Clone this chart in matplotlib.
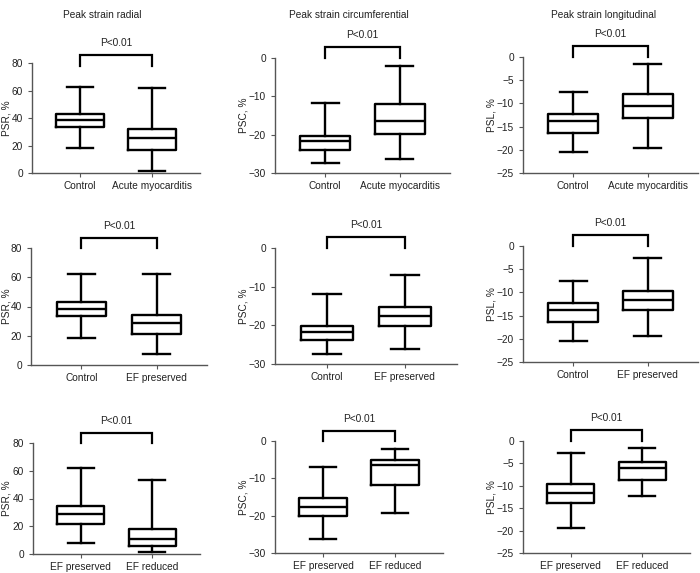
import matplotlib
matplotlib.use("Agg")
import matplotlib.pyplot as plt

plt.rcParams['font.family'] = ['Liberation Sans', 'DejaVu Sans']

W, H = 700, 573

titles = ["Peak strain radial", "Peak strain circumferential", "Peak strain longitudinal"]
ylabels = ["PSR, %", "PSC, %", "PSL, %"]
ylims = [(0, 80), (-30, 0), (-25, 0)]
yticks = [[0, 20, 40, 60, 80], [-30, -20, -10, 0], [-25, -20, -15, -10, -5, 0]]
group_labels = [["Control", "Acute myocarditis"],
                ["Control", "EF preserved"],
                ["EF preserved", "EF reduced"]]
p_text = "P<0.01"

# stats per group: (whislo, q1, med, q3, whishi)
psr_control = (18.2, 33.5, 38.3, 42.9, 62.3)
psr_acute = (1.2, 16.5, 25.5, 32.2, 61.8)
psr_efp = (7.6, 21.4, 28.7, 34.5, 62.3)
psr_efr = (1.7, 5.8, 11.0, 18.0, 53.5)

psc_control = (-27.3, -23.9, -21.7, -20.3, -11.8)
psc_acute = (-26.3, -19.8, -16.4, -12.1, -2.2)
psc_efp = (-26.2, -20.1, -17.6, -15.3, -6.9)
psc_efr = (-19.2, -11.9, -6.3, -5.2, -2.1)

psl_control = (-20.5, -16.3, -13.9, -12.2, -7.5)
psl_acute = (-19.6, -13.1, -10.6, -8.0, -1.5)
psl_efp = (-19.4, -13.8, -11.7, -9.6, -2.6)
psl_efr = (-12.3, -8.8, -6.0, -4.7, -1.6)

data = [
    [[psr_control, psr_acute], [psc_control, psc_acute], [psl_control, psl_acute]],
    [[psr_control, psr_efp], [psc_control, psc_efp], [psl_control, psl_efp]],
    [[psr_efp, psr_efr], [psc_efp, psc_efr], [psl_efp, psl_efr]],
]

# axes rects in pixels: (left, right, top, bottom)
rects = [
    [(32, 200, 63, 173), (275, 450, 58, 173), (523, 698, 57, 173)],
    [(31, 207, 248, 365), (275, 457, 248, 364), (523, 698, 246, 362)],
    [(33, 200, 443, 554), (275, 443, 441, 553), (523, 690, 441, 553)],
]
ylabel_x = [12, 248, 497]
# bracket (bottom, top) in data units
brackets = [
    [(78, 86), (0, 2.8), (0, 2.4)],
    [(80, 87), (0, 2.8), (0, 2.4)],
    [(80, 87), (0, 2.8), (0, 2.4)],
]

fig = plt.figure(figsize=(W / 100, H / 100), dpi=100)

spine_col = "#555555"
txt_col = "#222222"
fs = 7.3

for r in range(3):
    for c in range(3):
        l, rr, t, b = rects[r][c]
        ax = fig.add_axes([l / W, 1 - b / H, (rr - l) / W, (b - t) / H])
        stats = []
        for g, lab in zip(data[r][c], group_labels[r]):
            wl, q1, med, q3, wh = g
            stats.append(dict(whislo=wl, q1=q1, med=med, q3=q3, whishi=wh, label=lab, fliers=[]))
        lw = 1.7
        ax.bxp(stats, positions=[1, 2], widths=0.66, capwidths=0.36, showfliers=False,
               boxprops=dict(color="black", linewidth=lw),
               whiskerprops=dict(color="black", linewidth=lw),
               capprops=dict(color="black", linewidth=lw),
               medianprops=dict(color="black", linewidth=lw))
        ax.set_xlim(0.33, 2.67)
        ax.set_ylim(*ylims[c])
        ax.set_yticks(yticks[c])
        ax.set_xticks([1, 2])
        ax.set_xticklabels(group_labels[r])
        for s in ["top", "right"]:
            ax.spines[s].set_visible(False)
        for s in ["left", "bottom"]:
            ax.spines[s].set_color(spine_col)
            ax.spines[s].set_linewidth(1.0)
        ax.tick_params(axis="both", colors=spine_col, labelcolor=txt_col, labelsize=fs,
                       length=3, width=0.8, direction="out")
        ax.tick_params(axis="x", pad=3)
        ax.set_ylabel(ylabels[c], fontsize=fs, color=txt_col)
        ax.yaxis.set_label_coords((ylabel_x[c] - l) / (rr - l), 0.5)
        bb, bt = brackets[r][c]
        ax.plot([1, 1, 2, 2], [bb, bt, bt, bb], color="black", linewidth=1.6,
                clip_on=False, solid_joinstyle="miter")
        ax.annotate(p_text, xy=(1.5, bt), xytext=(0, 5), textcoords="offset points",
                    ha="center", va="bottom", fontsize=fs, color=txt_col,
                    annotation_clip=False)

title_x = [102, 349, 604]
for c in range(3):
    fig.text(title_x[c] / W, 1 - 15 / H, titles[c], ha="center", va="center",
             fontsize=fs, color=txt_col)

fig.savefig("out.png", dpi=100)
